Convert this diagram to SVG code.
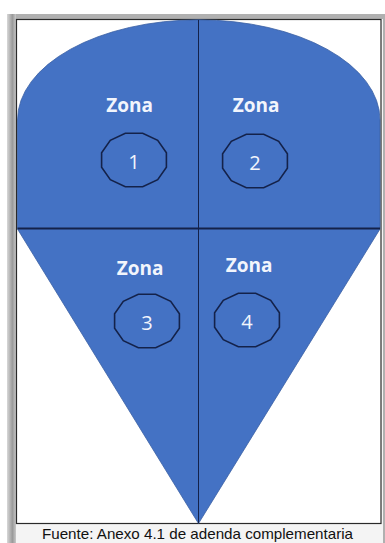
<svg xmlns="http://www.w3.org/2000/svg" xmlns:xlink="http://www.w3.org/1999/xlink" width="385" height="543" viewBox="0 0 385 543">
<style>
.zona{font-family:"Open Sans","Noto Sans",sans-serif;font-weight:bold;font-size:19px;fill:#f2f5fc;text-anchor:middle}
.num{font-family:"Open Sans","Noto Sans",sans-serif;font-size:20px;fill:#f2f5fc;text-anchor:middle}
.ring{fill:none;stroke:#14224a;stroke-width:1.6}
.blue{fill:#4472C4}
.div{stroke:#14224a;fill:none}
</style>
<defs>
<polygon id="gon" points="32.4,-7.3 23.7,-19.6 8.7,-26.8 -8.7,-26.8 -23.7,-19.6 -32.4,-7.3 -32.4,7.3 -23.7,19.6 -8.7,26.8 8.7,26.8 23.7,19.6 32.4,7.3"/>
<linearGradient id="lg" x1="0" x2="1" y1="0" y2="0">
<stop offset="0" stop-color="#d8d8d8"/><stop offset="0.6" stop-color="#9a9a9a"/><stop offset="1" stop-color="#c8c8c8"/>
</linearGradient>
</defs>
<rect width="385" height="543" fill="#ffffff"/>
<g id="frame">
<rect x="7" y="14" width="378" height="529" fill="#b0b0b0"/>
<rect x="7" y="14" width="9" height="529" fill="url(#lg)"/>
<rect x="16" y="19" width="367" height="524" fill="#f4f4f4"/>
<rect x="16.5" y="19.5" width="364.5" height="504" fill="#ffffff" stroke="#2a2a2a" stroke-width="1.2"/>
</g>
<g id="shape">
<path class="blue" d="M17.5,120 A181,100 0 0 1 380,120 L380,229 L198.5,523.5 L17.5,229 Z" stroke="#3a5fa3" stroke-width="0.8"/>
</g>
<g id="connectors">
<line class="div" x1="17.5" y1="228.5" x2="380" y2="228.5" stroke-width="1.8"/>
<line class="div" x1="198.5" y1="20" x2="198.5" y2="523.5" stroke-width="1"/>
</g>
<g id="zona1">
<text class="zona" x="129.5" y="112">Zona</text>
<use xlink:href="#gon" class="ring" transform="translate(134,160)"/>
<text class="num" x="134" y="169">1</text>
</g>
<g id="zona2">
<text class="zona" x="256" y="112">Zona</text>
<use xlink:href="#gon" class="ring" transform="translate(255,161)"/>
<text class="num" x="255" y="170">2</text>
</g>
<g id="zona3">
<text class="zona" x="140" y="275">Zona</text>
<use xlink:href="#gon" class="ring" transform="translate(147,321)"/>
<text class="num" x="147" y="330">3</text>
</g>
<g id="zona4">
<text class="zona" x="249" y="272">Zona</text>
<use xlink:href="#gon" class="ring" transform="translate(247,320)"/>
<text class="num" x="247" y="329">4</text>
</g>
<text x="197.5" y="539" font-family="Liberation Sans, Arial, sans-serif" font-size="14.5" fill="#111" text-anchor="middle" textLength="311" lengthAdjust="spacingAndGlyphs">Fuente: Anexo 4.1 de adenda complementaria</text>
</svg>
